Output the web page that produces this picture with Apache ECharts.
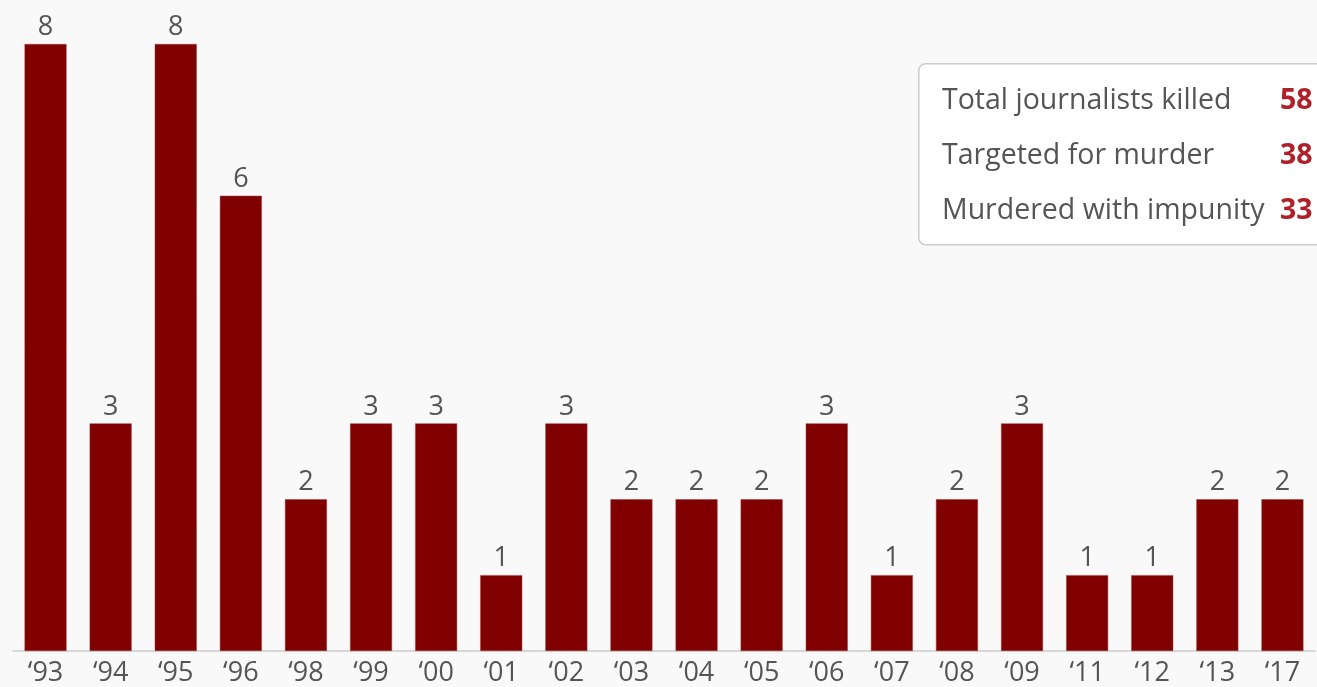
<!DOCTYPE html>
<html>
<head>
<meta charset="utf-8">
<script src="https://cdn.jsdelivr.net/npm/echarts@6/dist/echarts.min.js"></script>
<style>
  html, body { margin: 0; padding: 0; background: #f9f9f9; }
  #chart { width: 1317px; height: 687px; }
</style>
</head>
<body>
<div id="chart"></div>
<script>
// years (x axis) and journalists killed per year
var years = ['\u201893', '\u201894', '\u201895', '\u201896', '\u201898', '\u201899', '\u201800', '\u201801', '\u201802', '\u201803',
             '\u201804', '\u201805', '\u201806', '\u201807', '\u201808', '\u201809', '\u201811', '\u201812', '\u201813', '\u201817'];
var killed = [8, 3, 8, 6, 2, 3, 3, 1, 3, 2, 2, 2, 3, 1, 2, 3, 1, 1, 2, 2];

// summary box
var summaryLabels = ['Total journalists killed', 'Targeted for murder', 'Murdered with impunity'];
var summaryValues = [58, 38, 33];

var chart = echarts.init(document.getElementById('chart'));

var font = '"Open Sans", "Noto Sans", sans-serif';

// build the summary box graphic
var boxItems = [{
  type: 'rect',
  left: 918, top: 63,
  shape: { width: 420, height: 181, r: 7 },
  style: { fill: '#ffffff', stroke: '#cccccc', lineWidth: 1.5 },
  z: 10
}];
summaryLabels.forEach(function (txt, i) {
  boxItems.push({
    type: 'text', left: 942, top: 86 + i * 55, z: 11,
    style: { text: txt, fill: '#555555', font: '28.5px ' + font }
  });
  boxItems.push({
    type: 'text', left: 1280, top: 86 + i * 55, z: 11,
    style: { text: String(summaryValues[i]), fill: '#b0202a', font: 'bold 28.5px ' + font }
  });
});

var option = {
  backgroundColor: '#f9f9f9',
  animation: false,
  textStyle: { fontFamily: font },
  grid: { left: 13, right: 2, top: 44, bottom: 34, containLabel: false },
  xAxis: {
    type: 'category',
    data: years,
    axisLine: { lineStyle: { color: '#cccccc', width: 1.5 } },
    axisTick: { show: false },
    axisLabel: { color: '#555555', fontSize: 27, margin: 9, fontFamily: font }
  },
  yAxis: {
    type: 'value',
    min: 0, max: 8,
    show: false,
    splitLine: { show: false }
  },
  series: [{
    type: 'bar',
    data: killed,
    barWidth: '64.5%',
    itemStyle: { color: '#800000', borderColor: '#a04040', borderWidth: 0.5 },
    label: {
      show: true, position: 'top', distance: 3,
      color: '#555555', fontSize: 27, fontFamily: font
    }
  }],
  graphic: boxItems
};

chart.setOption(option);
</script>
</body>
</html>
